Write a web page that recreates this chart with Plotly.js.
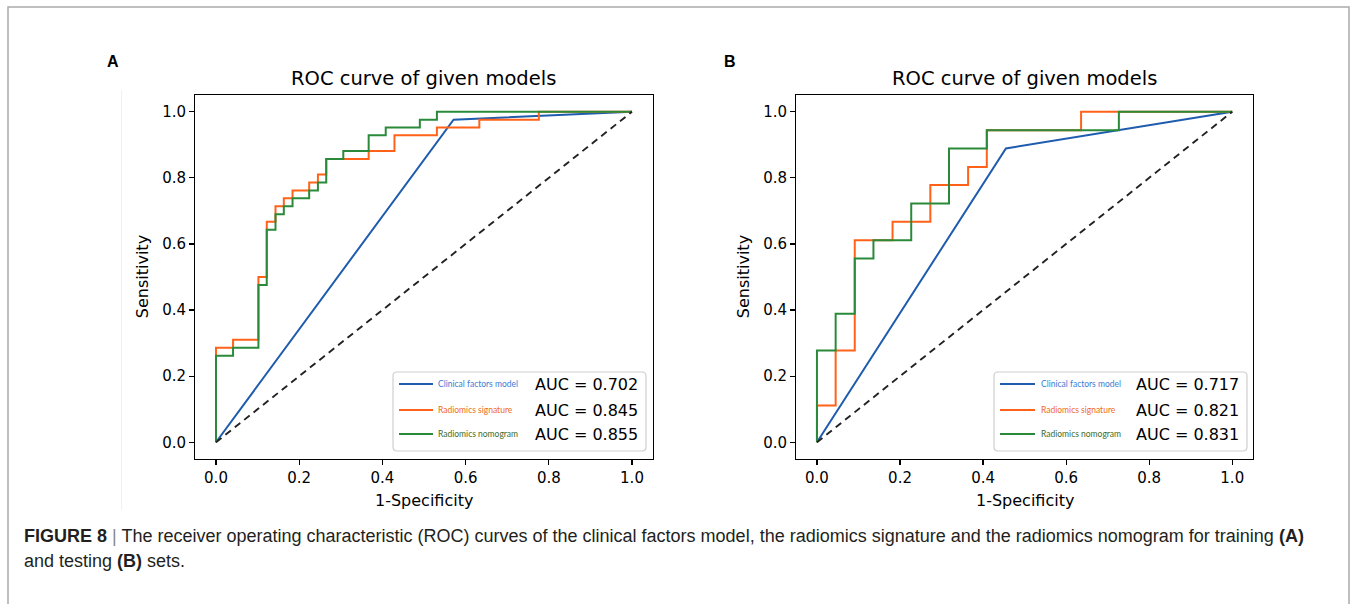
<!DOCTYPE html>
<html>
<head>
<meta charset="utf-8">
<script src="https://cdn.plot.ly/plotly-3.0.1.min.js"></script>
<style>
html,body{margin:0;padding:0;background:#fff;}
#chart{width:1354px;height:604px;}
</style>
</head>
<body>
<div id="chart"></div>
<script>
// ---------- data ----------
const tickVals = [0, 0.2, 0.4, 0.6, 0.8, 1.0];
const tickText = ["0.0", "0.2", "0.4", "0.6", "0.8", "1.0"];

const modelNames = ["Clinical factors model", "Radiomics signature", "Radiomics nomogram"];
const aucA = ["0.702", "0.845", "0.855"];
const aucB = ["0.717", "0.821", "0.831"];

// Panel A (training)
const clinA_fpr = [0, 0.571, 1];
const clinA_tpr = [0, 0.976, 1];
const sigA_fpr = [0, 0, 0.041, 0.102, 0.122, 0.143, 0.163, 0.184, 0.224, 0.245, 0.265, 0.367, 0.429, 0.531, 0.633, 0.776, 1];
const sigA_tpr = [0, 0.286, 0.310, 0.500, 0.667, 0.714, 0.738, 0.762, 0.786, 0.810, 0.857, 0.881, 0.929, 0.952, 0.976, 1.0, 1];
const nomA_fpr = [0, 0, 0.041, 0.102, 0.122, 0.143, 0.163, 0.184, 0.224, 0.245, 0.265, 0.306, 0.367, 0.408, 0.490, 0.531, 1];
const nomA_tpr = [0, 0.262, 0.286, 0.476, 0.643, 0.690, 0.714, 0.738, 0.762, 0.786, 0.857, 0.881, 0.929, 0.952, 0.976, 1.0, 1];

// Panel B (testing)
const clinB_fpr = [0, 0.455, 1];
const clinB_tpr = [0, 0.889, 1];
const sigB_fpr = [0, 0, 0.045, 0.091, 0.182, 0.273, 0.364, 0.409, 0.636, 1];
const sigB_tpr = [0, 0.111, 0.278, 0.611, 0.667, 0.778, 0.833, 0.944, 1.0, 1];
const nomB_fpr = [0, 0, 0.045, 0.091, 0.136, 0.227, 0.318, 0.409, 0.727, 1];
const nomB_tpr = [0, 0.278, 0.389, 0.556, 0.611, 0.722, 0.889, 0.944, 1.0, 1];

const chanceLine = [0, 1];

// ---------- styling / layout helpers ----------
const W = 1354, H = 604;
const px = x => x / W;
const py = y => 1 - y / H;

const BLUE = "#1f5cae", ORANGE = "#ff6218", GREEN = "#2a8a3a";
const LBL_COL = ["#3b7bd4", "#f06a22", "#3d6b2a"];
const LINE_COL = [BLUE, ORANGE, GREEN];
const MPL = "DejaVu Sans, sans-serif";

function rocTraces(xa, ya, clin, sig, nom) {
  return [
    {x: clin[0], y: clin[1], xaxis: xa, yaxis: ya, mode: "lines", line: {color: BLUE, width: 2}, name: modelNames[0], showlegend: false, hoverinfo: "x+y"},
    {x: sig[0], y: sig[1], xaxis: xa, yaxis: ya, mode: "lines", line: {color: ORANGE, width: 2, shape: "hv"}, name: modelNames[1], showlegend: false, hoverinfo: "x+y"},
    {x: nom[0], y: nom[1], xaxis: xa, yaxis: ya, mode: "lines", line: {color: GREEN, width: 2, shape: "hv"}, name: modelNames[2], showlegend: false, hoverinfo: "x+y"},
    {x: chanceLine, y: chanceLine, xaxis: xa, yaxis: ya, mode: "lines", line: {color: "#222", width: 1.9, dash: "7px,5px"}, name: "chance", showlegend: false, hoverinfo: "skip"}
  ];
}

const data = [
  ...rocTraces("x", "y", [clinA_fpr, clinA_tpr], [sigA_fpr, sigA_tpr], [nomA_fpr, nomA_tpr]),
  ...rocTraces("x2", "y2", [clinB_fpr, clinB_tpr], [sigB_fpr, sigB_tpr], [nomB_fpr, nomB_tpr])
];

function axisCommon(domain, anchor) {
  return {
    domain: domain, anchor: anchor, range: [-0.05, 1.05],
    tickvals: tickVals, ticktext: tickText,
    ticks: "outside", ticklen: 5, tickwidth: 1.2, tickcolor: "#000",
    showline: true, mirror: true, linecolor: "#000", linewidth: 1.2,
    showgrid: false, zeroline: false,
    tickfont: {family: MPL, size: 15, color: "#000"}, fixedrange: true
  };
}

// panel frames in pixels
const panels = [
  {left: 195.2, right: 652.8, top: 95.2, bottom: 458.8, letter: "A", letterX: 113, auc: aucA,
   legBox: [393, 372, 646, 451], legLine: [399, 433], legText: 436, aucX: 533},
  {left: 796.2, right: 1253.0, top: 95.2, bottom: 458.8, letter: "B", letterX: 730, auc: aucB,
   legBox: [994, 372, 1247, 451], legLine: [1000, 1035], legText: 1039, aucX: 1134}
];
const rowsY = [384, 410, 434];

const layout = {
  width: W, height: H,
  margin: {l: 0, r: 0, t: 0, b: 0, pad: 0},
  paper_bgcolor: "#fff", plot_bgcolor: "#fff",
  showlegend: false,
  xaxis: axisCommon([px(panels[0].left), px(panels[0].right)], "y"),
  yaxis: axisCommon([py(panels[0].bottom), py(panels[0].top)], "x"),
  xaxis2: axisCommon([px(panels[1].left), px(panels[1].right)], "y2"),
  yaxis2: axisCommon([py(panels[1].bottom), py(panels[1].top)], "x2"),
  shapes: [], annotations: []
};

// outer figure border
layout.shapes.push({type: "rect", xref: "paper", yref: "paper", x0: px(8), x1: px(1349), y0: -0.05, y1: py(7),
  line: {color: "#ababab", width: 1.5}, fillcolor: "rgba(0,0,0,0)", layer: "below"});
// faint scan line left of panel A
layout.shapes.push({type: "line", xref: "paper", yref: "paper", x0: px(121.5), x1: px(121.5), y0: py(510), y1: py(90),
  line: {color: "#f1f1f1", width: 1}, layer: "below"});

function roundedRect(x0, y0, x1, y1, r) {
  const X = v => px(v).toFixed(5), Y = v => py(v).toFixed(5);
  return `M ${X(x0 + r)},${Y(y0)} L ${X(x1 - r)},${Y(y0)} Q ${X(x1)},${Y(y0)} ${X(x1)},${Y(y0 + r)} ` +
         `L ${X(x1)},${Y(y1 - r)} Q ${X(x1)},${Y(y1)} ${X(x1 - r)},${Y(y1)} ` +
         `L ${X(x0 + r)},${Y(y1)} Q ${X(x0)},${Y(y1)} ${X(x0)},${Y(y1 - r)} ` +
         `L ${X(x0)},${Y(y0 + r)} Q ${X(x0)},${Y(y0)} ${X(x0 + r)},${Y(y0)} Z`;
}

panels.forEach(p => {
  const cx = (p.left + p.right) / 2;
  layout.annotations.push({xref: "paper", yref: "paper", x: px(cx), y: py(78), xanchor: "center", yanchor: "middle",
    text: "ROC curve of given models", showarrow: false, font: {family: MPL, size: 19.5, color: "#000"}});
  layout.annotations.push({xref: "paper", yref: "paper", x: px(p.letterX), y: py(62), xanchor: "center", yanchor: "middle",
    text: "<b>" + p.letter + "</b>", showarrow: false, font: {family: "Liberation Sans, Arial, sans-serif", size: 16, color: "#000"}});
  layout.annotations.push({xref: "paper", yref: "paper", x: px(cx), y: py(500), xanchor: "center", yanchor: "middle",
    text: "1-Specificity", showarrow: false, font: {family: MPL, size: 16, color: "#000"}});
  layout.annotations.push({xref: "paper", yref: "paper", x: px(p.left - 53), y: py((p.top + p.bottom) / 2), xanchor: "center", yanchor: "middle",
    text: "Sensitivity", textangle: -90, showarrow: false, font: {family: MPL, size: 16, color: "#000"}});
  const b = p.legBox;
  layout.shapes.push({type: "path", xref: "paper", yref: "paper", path: roundedRect(b[0], b[1], b[2], b[3], 4),
    line: {color: "#cfcfcf", width: 1.2}, fillcolor: "rgba(255,255,255,0.85)"});
  rowsY.forEach((ry, i) => {
    layout.shapes.push({type: "line", xref: "paper", yref: "paper", x0: px(p.legLine[0]), x1: px(p.legLine[1]), y0: py(ry), y1: py(ry),
      line: {color: LINE_COL[i], width: 2}});
    layout.annotations.push({xref: "paper", yref: "paper", x: px(p.legText), y: py(ry), xanchor: "left", yanchor: "middle",
      text: modelNames[i], showarrow: false, font: {family: "Lato, sans-serif", size: 8.5, color: LBL_COL[i]}});
    layout.annotations.push({xref: "paper", yref: "paper", x: px(p.aucX), y: py(ry), xanchor: "left", yanchor: "middle",
      text: "AUC = " + p.auc[i], showarrow: false, font: {family: MPL, size: 16, color: "#000"}});
  });
});

// caption
const CAP = "Liberation Sans, Arial, Helvetica, sans-serif";
layout.annotations.push({xref: "paper", yref: "paper", x: px(22), y: py(536), xanchor: "left", yanchor: "middle", showarrow: false,
  text: "<b>FIGURE 8</b> <span style=\"color:#888\">|</span> The receiver operating characteristic (ROC) curves of the clinical factors model, the radiomics signature and the radiomics nomogram for training <b>(A)</b>",
  font: {family: CAP, size: 18, color: "#231f20"}});
layout.annotations.push({xref: "paper", yref: "paper", x: px(22), y: py(561), xanchor: "left", yanchor: "middle", showarrow: false,
  text: "and testing <b>(B)</b> sets.",
  font: {family: CAP, size: 18, color: "#231f20"}});

Plotly.newPlot("chart", data, layout, {displayModeBar: false, staticPlot: true});
</script>
</body>
</html>
